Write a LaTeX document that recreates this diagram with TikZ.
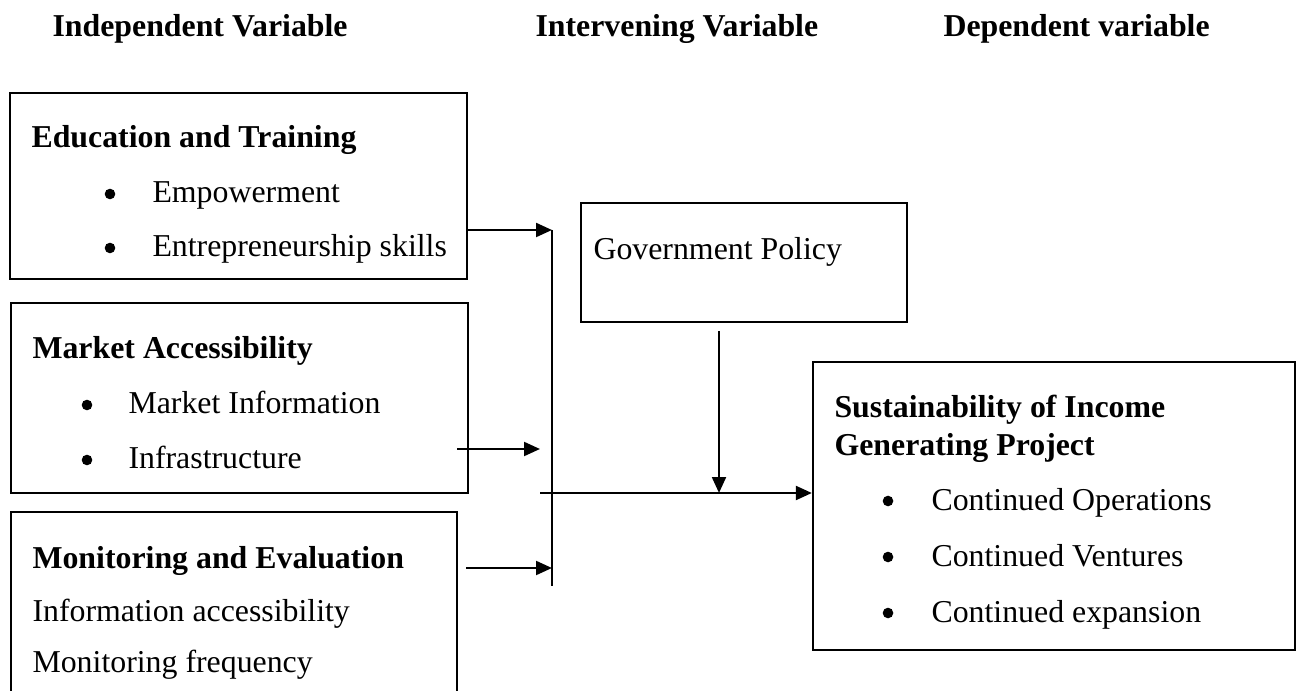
\documentclass[tikz,border=0pt]{standalone}
\usepackage{fontspec}
\setmainfont{Liberation Serif}
\usepackage{tikz}
\usetikzlibrary{arrows.meta,fit}

\tikzset{
  frame/.style={draw, line width=0.85pt, inner sep=0pt},
  head/.style={font=\fontsize{12}{14}\selectfont\bfseries, anchor=base west, inner sep=0pt},
  txt/.style={anchor=base west, inner sep=0pt},
  dot/.style={circle, fill, inner sep=0pt, minimum size=4pt},
  conn/.style={line width=0.95pt, -{Triangle[length=6pt,width=5.2pt]}},
  bus/.style={line width=0.95pt}
}

\begin{document}
\begin{tikzpicture}[x=0.377pt, y=-0.377pt, font=\fontsize{12}{14}\selectfont]
\path[use as bounding box, clip] (0,0) rectangle (1299,691);

% column titles
\node[head] (indep) at (52,37) {Independent Variable};
\node[head] (interv) at (535,37) {Intervening Variable};
\node[head] (dep) at (943,37) {Dependent variable};

% independent variables
\node[frame, fit={(10,93) (467,279)}] (edu) {};
\node[head] (edut) at (31,148) {Education and Training};
\node[dot] at (110,194) {};
\node[txt] (edua) at (152,203) {Empowerment};
\node[dot] at (110,248) {};
\node[txt] (edub) at (152,257) {Entrepreneurship skills};

\node[frame, fit={(11,303) (468,493)}] (mkt) {};
\node[head] (mktt) at (32,359) {Market Accessibility};
\node[dot] at (87,405) {};
\node[txt] (mkta) at (128,414) {Market Information};
\node[dot] at (87,460) {};
\node[txt] (mktb) at (128,469) {Infrastructure};

\node[frame, fit={(11,512) (457,740)}] (me) {};
\node[head] (met) at (32,568) {Monitoring and Evaluation};
\node[txt] (mea) at (32,621) {Information accessibility};
\node[txt] (meb) at (32,672) {Monitoring frequency};

% intervening variable
\node[frame, fit={(581,203) (907,322)}] (gov) {};
\node[txt] (govt) at (593,260) {Government Policy};

% dependent variable
\node[frame, fit={(813,362) (1295,650)}] (sust) {};
\node[head] (sustt) at (834,418) {Sustainability of Income};
\node[head] (sustt2) at (834,455) {Generating Project};
\node[dot] at (888,501) {};
\node[txt] (susta) at (931,510) {Continued Operations};
\node[dot] at (888,557) {};
\node[txt] (sustb) at (931,566) {Continued Ventures};
\node[dot] at (888,613) {};
\node[txt] (sustc) at (931,622) {Continued expansion};

% connectors
\coordinate (busTop) at (552,230);
\coordinate (busBot) at (552,586);
\coordinate (mkOut) at (457,449);
\coordinate (mkIn) at (540,449);
\coordinate (meOut) at (466,568);
\coordinate (busOut) at (540,493);
\coordinate (govOut) at (719,331);

\draw[bus] (busTop) -- (busBot);
\draw[conn] (edu.east |- busTop) -- (busTop);
\draw[conn] (mkOut) -- (mkIn);
\draw[conn] (meOut) -- (meOut -| busTop);
\draw[conn] (busOut) -- (busOut -| sust.west);
\draw[conn] (govOut) -- (govOut |- busOut);
\end{tikzpicture}
\end{document}
